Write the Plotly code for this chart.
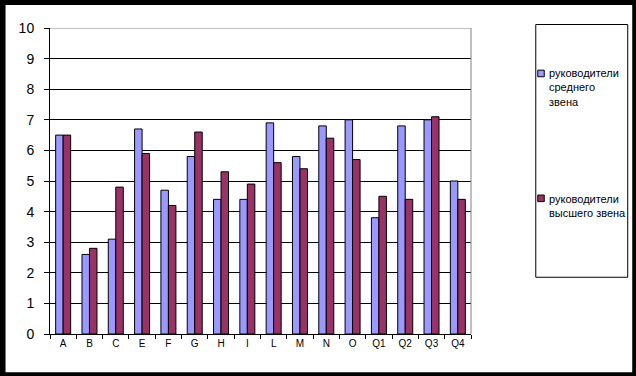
import plotly.graph_objects as go

categories = ["A", "B", "C", "E", "F", "G", "H", "I", "L", "M", "N", "O", "Q1", "Q2", "Q3", "Q4"]
middle_mgmt = [6.5, 2.6, 3.1, 6.7, 4.7, 5.8, 4.4, 4.4, 6.9, 5.8, 6.8, 7.0, 3.8, 6.8, 7.0, 5.0]
top_mgmt = [6.5, 2.8, 4.8, 5.9, 4.2, 6.6, 5.3, 4.9, 5.6, 5.4, 6.4, 5.7, 4.5, 4.4, 7.1, 4.4]
series_names = ["руководители<br>среднего<br>звена", "руководители<br>высшего звена"]
series_colors = ["#9999FF", "#993366"]
y_ticks = list(range(0, 11))

W, H = 636, 376
L, R, T, B = 49.5, 165.3, 28, 41.7
PW, PH = W - L - R, H - T - B

def px(x):
    return (x - L) / PW

def py(y):
    return (H - B - y) / PH

FONT = "Liberation Sans, Arial, sans-serif"

fig = go.Figure()
for name, vals, col in zip(series_names, [middle_mgmt, top_mgmt], series_colors):
    fig.add_trace(go.Bar(x=categories, y=vals, name=name, marker=dict(color=col, line=dict(color="black", width=1))))

shapes = [
    dict(type="rect", xref="paper", yref="paper", x0=px(5), x1=px(632), y0=py(372.5), y1=py(5),
         fillcolor="white", line=dict(width=0), layer="below"),
    dict(type="line", xref="paper", yref="y", x0=0, x1=1, y0=10, y1=10, line=dict(color="#808080", width=1)),
    dict(type="line", xref="paper", yref="paper", x0=1, x1=1, y0=0, y1=1, line=dict(color="#808080", width=1)),
    dict(type="rect", xref="paper", yref="paper", x0=px(535.5), x1=px(627.5), y0=py(277.5), y1=py(24.5),
         line=dict(color="black", width=1), fillcolor="white"),
]
annotations = []
leg_sq_y = [73.5, 198.5]
leg_txt_y = [88, 206.3]
for i in range(2):
    shapes.append(dict(type="rect", xref="paper", yref="paper", x0=px(537.5), x1=px(544), y0=py(leg_sq_y[i] + 3.3),
                       y1=py(leg_sq_y[i] - 3.3), fillcolor=series_colors[i], line=dict(color="black", width=1)))
    annotations.append(dict(xref="paper", yref="paper", x=px(547), y=py(leg_txt_y[i]), text=series_names[i],
                            showarrow=False, xanchor="left", yanchor="middle", align="left",
                            font=dict(family=FONT, size=11, color="black")))

fig.update_layout(
    width=W, height=H, margin=dict(l=L, r=R, t=T, b=B, autoexpand=False),
    paper_bgcolor="black", plot_bgcolor="white",
    showlegend=False, barmode="group", bargap=0.43, bargroupgap=0,
    font=dict(family=FONT, color="black"),
    shapes=shapes, annotations=annotations,
    xaxis=dict(showline=True, linecolor="black", linewidth=1, ticks="outside", tickson="boundaries",
               ticklen=4, tickcolor="black", showgrid=False, tickfont=dict(size=10, family=FONT)),
    yaxis=dict(range=[0, 10], tickvals=y_ticks, showline=True, linecolor="black", linewidth=1,
               ticks="outside", ticklen=5, tickcolor="black", showgrid=True, gridcolor="black", gridwidth=1,
               zeroline=False, tickfont=dict(size=14, family=FONT), ticklabelstandoff=7),
)
fig.write_html("out.html", config={"displayModeBar": False, "staticPlot": True},
               post_script="document.body.style.margin='0';document.body.style.overflow='hidden';")
